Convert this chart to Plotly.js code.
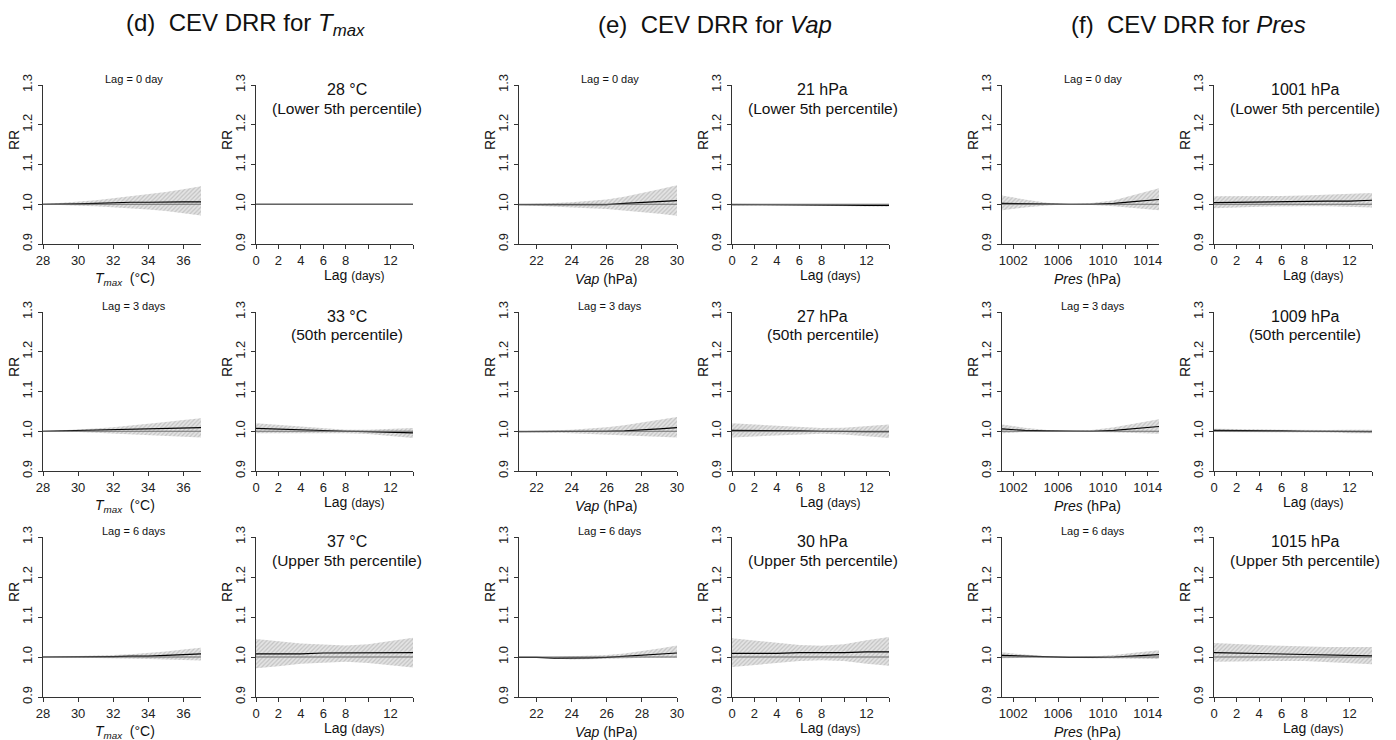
<!DOCTYPE html>
<html>
<head>
<meta charset="utf-8">
<script src="https://cdn.plot.ly/plotly-3.0.1.min.js"></script>
<style>
  html, body { margin: 0; padding: 0; background: #ffffff; }
  #chart { width: 1396px; height: 740px; }
</style>
</head>
<body>
<div id="chart"></div>
<script>
// ---------- exposure grids and lag grid ----------
const tmaxGrid = [28, 29, 30, 31, 32, 33, 34, 35, 36, 37];
const vapGrid  = [21, 22, 23, 24, 25, 26, 27, 28, 29, 30];
const presGrid = [1001, 1003, 1005, 1007, 1009, 1011, 1013, 1015];
const lagDays  = [0, 2, 4, 6, 8, 10, 12, 14];
const refRR = 1.0;

// ---------- Tmax: exposure-response at lag 0 / 3 / 6 ----------
const tmaxLag0Fit  = [1.000, 1.000, 1.001, 1.002, 1.004, 1.005, 1.005, 1.006, 1.006, 1.006];
const tmaxLag0Low  = [1.000, 0.998, 0.996, 0.995, 0.993, 0.990, 0.987, 0.983, 0.978, 0.972];
const tmaxLag0High = [1.000, 1.003, 1.006, 1.010, 1.015, 1.020, 1.025, 1.031, 1.038, 1.045];
const tmaxLag3Fit  = [1.000, 1.001, 1.002, 1.002, 1.003, 1.004, 1.005, 1.006, 1.007, 1.009];
const tmaxLag3Low  = [1.000, 0.999, 0.998, 0.996, 0.995, 0.993, 0.991, 0.989, 0.986, 0.984];
const tmaxLag3High = [1.000, 1.002, 1.004, 1.007, 1.010, 1.014, 1.018, 1.023, 1.028, 1.033];
const tmaxLag6Fit  = [1.000, 1.000, 1.000, 1.001, 1.001, 1.002, 1.002, 1.004, 1.006, 1.008];
const tmaxLag6Low  = [1.000, 0.999, 0.998, 0.998, 0.997, 0.996, 0.995, 0.994, 0.993, 0.991];
const tmaxLag6High = [1.000, 1.001, 1.002, 1.004, 1.005, 1.007, 1.010, 1.014, 1.019, 1.023];

// ---------- Tmax: lag-response at 28 / 33 / 37 °C ----------
const tmax28Fit  = [1.000, 1.000, 1.000, 1.000, 1.000, 1.000, 1.000, 1.000];
const tmax28Low  = [1.000, 1.000, 1.000, 1.000, 1.000, 1.000, 1.000, 1.000];
const tmax28High = [1.000, 1.000, 1.000, 1.000, 1.000, 1.000, 1.000, 1.000];
const tmax33Fit  = [1.007, 1.005, 1.003, 1.001, 1.000, 0.999, 0.997, 0.996];
const tmax33Low  = [0.995, 0.995, 0.995, 0.995, 0.995, 0.993, 0.988, 0.983];
const tmax33High = [1.020, 1.016, 1.011, 1.007, 1.004, 1.004, 1.006, 1.008];
const tmax37Fit  = [1.008, 1.008, 1.008, 1.010, 1.010, 1.010, 1.011, 1.011];
const tmax37Low  = [0.972, 0.977, 0.983, 0.986, 0.988, 0.985, 0.979, 0.974];
const tmax37High = [1.045, 1.040, 1.034, 1.031, 1.029, 1.032, 1.040, 1.048];

// ---------- Vap: exposure-response at lag 0 / 3 / 6 ----------
const vapLag0Fit  = [0.999, 0.999, 0.999, 0.998, 0.998, 0.999, 1.002, 1.004, 1.007, 1.009];
const vapLag0Low  = [0.998, 0.996, 0.994, 0.992, 0.990, 0.988, 0.985, 0.980, 0.976, 0.971];
const vapLag0High = [1.000, 1.001, 1.003, 1.005, 1.008, 1.012, 1.019, 1.028, 1.038, 1.048];
const vapLag3Fit  = [0.999, 0.999, 0.999, 0.999, 0.999, 1.000, 1.001, 1.003, 1.006, 1.009];
const vapLag3Low  = [0.998, 0.997, 0.996, 0.995, 0.994, 0.992, 0.990, 0.988, 0.986, 0.984];
const vapLag3High = [1.000, 1.001, 1.002, 1.004, 1.007, 1.010, 1.015, 1.022, 1.029, 1.036];
const vapLag6Fit  = [0.999, 0.999, 0.997, 0.997, 0.998, 0.999, 1.002, 1.004, 1.007, 1.010];
const vapLag6Low  = [0.998, 0.998, 0.996, 0.994, 0.994, 0.995, 0.996, 0.998, 0.998, 0.998];
const vapLag6High = [1.000, 1.000, 1.000, 1.002, 1.003, 1.005, 1.009, 1.015, 1.021, 1.029];

// ---------- Vap: lag-response at 21 / 27 / 30 hPa ----------
const vap21Fit  = [0.999, 0.999, 0.999, 0.999, 0.999, 0.998, 0.997, 0.997];
const vap21Low  = [0.997, 0.997, 0.997, 0.997, 0.997, 0.996, 0.995, 0.994];
const vap21High = [1.001, 1.001, 1.001, 1.001, 1.001, 1.000, 1.000, 1.000];
const vap27Fit  = [1.002, 1.002, 1.002, 1.001, 1.000, 0.999, 0.999, 0.999];
const vap27Low  = [0.984, 0.987, 0.990, 0.992, 0.994, 0.992, 0.988, 0.983];
const vap27High = [1.020, 1.017, 1.014, 1.010, 1.008, 1.009, 1.013, 1.017];
const vap30Fit  = [1.009, 1.009, 1.009, 1.011, 1.011, 1.011, 1.013, 1.013];
const vap30Low  = [0.975, 0.980, 0.985, 0.990, 0.992, 0.990, 0.983, 0.978];
const vap30High = [1.047, 1.041, 1.035, 1.030, 1.028, 1.032, 1.042, 1.050];

// ---------- Pres: exposure-response at lag 0 / 3 / 6 ----------
const presLag0Fit  = [1.002, 1.001, 1.000, 1.000, 1.000, 1.002, 1.007, 1.012];
const presLag0Low  = [0.985, 0.992, 0.997, 1.000, 0.998, 0.995, 0.990, 0.985];
const presLag0High = [1.022, 1.012, 1.004, 1.000, 1.003, 1.010, 1.025, 1.040];
const presLag3Fit  = [1.006, 1.002, 1.001, 1.000, 1.000, 1.002, 1.007, 1.012];
const presLag3Low  = [0.995, 0.998, 0.999, 1.000, 0.999, 0.998, 0.996, 0.994];
const presLag3High = [1.017, 1.009, 1.003, 1.000, 1.003, 1.010, 1.020, 1.030];
const presLag6Fit  = [1.004, 1.002, 1.000, 0.999, 0.999, 1.000, 1.003, 1.006];
const presLag6Low  = [0.997, 0.998, 0.999, 0.998, 0.997, 0.996, 0.995, 0.995];
const presLag6High = [1.012, 1.006, 1.002, 1.000, 1.001, 1.005, 1.011, 1.017];

// ---------- Pres: lag-response at 1001 / 1009 / 1015 hPa ----------
const pres1001Fit  = [1.004, 1.005, 1.006, 1.006, 1.008, 1.008, 1.008, 1.010];
const pres1001Low  = [0.990, 0.992, 0.994, 0.995, 0.995, 0.995, 0.994, 0.992];
const pres1001High = [1.020, 1.020, 1.020, 1.021, 1.022, 1.024, 1.026, 1.028];
const pres1009Fit  = [1.002, 1.002, 1.001, 1.001, 1.000, 1.000, 0.999, 0.999];
const pres1009Low  = [0.998, 0.998, 0.998, 0.998, 0.997, 0.997, 0.995, 0.995];
const pres1009High = [1.006, 1.006, 1.005, 1.004, 1.003, 1.003, 1.004, 1.004];
const pres1015Fit  = [1.011, 1.010, 1.009, 1.008, 1.007, 1.005, 1.004, 1.003];
const pres1015Low  = [0.988, 0.989, 0.990, 0.990, 0.990, 0.988, 0.985, 0.982];
const pres1015High = [1.035, 1.032, 1.030, 1.028, 1.026, 1.025, 1.025, 1.025];

// ---------- axis ranges and tick labels ----------
const rrRange = [0.9, 1.3];
const rrTicks = [0.9, 1.0, 1.1, 1.2, 1.3];
const rrTickText = ['0.9', '1.0', '1.1', '1.2', '1.3'];
const tmaxRange = [28, 37];
const tmaxTicks = [28, 30, 32, 34, 36];
const tmaxMinorTicks = [];
const vapRange = [21, 30];
const vapTicks = [22, 24, 26, 28, 30];
const vapMinorTicks = [];
const presRange = [1001, 1015];
const presTicks = [1002, 1006, 1010, 1014];
const presMinorTicks = [1004, 1008, 1012];
const lagRange = [0, 14];
const lagTicks = [0, 2, 4, 6, 8, 12];
const lagMinorTicks = [10, 14];

const panelTitles = ['(d)  CEV DRR for <i>T</i><sub><i>max</i></sub>',
                     '(e)  CEV DRR for <i>Vap</i>',
                     '(f)  CEV DRR for <i>Pres</i>'];
const lagLabels = ['Lag = 0 day', 'Lag = 3 days', 'Lag = 6 days'];
const tmaxLevels = ['28 °C', '33 °C', '37 °C'];
const vapLevels  = ['21 hPa', '27 hPa', '30 hPa'];
const presLevels = ['1001 hPa', '1009 hPa', '1015 hPa'];
const percentileLabels = ['(Lower 5th percentile)', '(50th percentile)', '(Upper 5th percentile)'];

// ---------- page geometry (pixels) ----------
const W = 1396, H = 740;
const colLeft  = [43, 256, 519, 732, 1002, 1214];
const colRight = [201, 413, 677, 889, 1159, 1372];
const rowTop    = [85, 312, 537];
const rowBottom = [244, 471, 697];
const FONT = 'Arial, "Liberation Sans", Helvetica, sans-serif';
const px = v => v / W;
const py = v => 1 - v / H;

// variable blocks: exposure panel + lag panel per row
const variables = [
  { grid: tmaxGrid, range: tmaxRange, ticks: tmaxTicks, minor: tmaxMinorTicks,
    xTitle: '<i>T</i><sub><i>max</i></sub>  (°C)', xTitleShift: 3,
    exp: [[tmaxLag0Fit, tmaxLag0Low, tmaxLag0High], [tmaxLag3Fit, tmaxLag3Low, tmaxLag3High], [tmaxLag6Fit, tmaxLag6Low, tmaxLag6High]],
    lag: [[tmax28Fit, tmax28Low, tmax28High], [tmax33Fit, tmax33Low, tmax33High], [tmax37Fit, tmax37Low, tmax37High]],
    levels: tmaxLevels },
  { grid: vapGrid, range: vapRange, ticks: vapTicks, minor: vapMinorTicks,
    xTitle: '<i>Vap</i> (hPa)', xTitleShift: 8,
    exp: [[vapLag0Fit, vapLag0Low, vapLag0High], [vapLag3Fit, vapLag3Low, vapLag3High], [vapLag6Fit, vapLag6Low, vapLag6High]],
    lag: [[vap21Fit, vap21Low, vap21High], [vap27Fit, vap27Low, vap27High], [vap30Fit, vap30Low, vap30High]],
    levels: vapLevels },
  { grid: presGrid, range: presRange, ticks: presTicks, minor: presMinorTicks,
    xTitle: '<i>Pres</i> (hPa)', xTitleShift: 7,
    exp: [[presLag0Fit, presLag0Low, presLag0High], [presLag3Fit, presLag3Low, presLag3High], [presLag6Fit, presLag6Low, presLag6High]],
    lag: [[pres1001Fit, pres1001Low, pres1001High], [pres1009Fit, pres1009Low, pres1009High], [pres1015Fit, pres1015Low, pres1015High]],
    levels: presLevels }
];

const traces = [];
const layout = {
  width: W, height: H,
  margin: { l: 0, r: 0, t: 0, b: 0 },
  paper_bgcolor: '#ffffff', plot_bgcolor: '#ffffff',
  showlegend: false,
  font: { family: FONT, color: '#1a1a1a' },
  annotations: []
};

function axisBase() {
  return {
    showline: true, linecolor: '#333333', linewidth: 1,
    ticks: 'outside', ticklen: 5, tickwidth: 1, tickcolor: '#333333',
    showgrid: false, zeroline: false, fixedrange: true,
    tickfont: { family: FONT, size: 13, color: '#222222' }
  };
}

function note(text, x, y, size, extra) {
  layout.annotations.push(Object.assign({
    text: text, x: px(x), y: py(y), xref: 'paper', yref: 'paper',
    xanchor: 'center', yanchor: 'middle', showarrow: false,
    font: { family: FONT, size: size, color: '#111111' }
  }, extra || {}));
}

function addPanel(n, xs, fit, low, high, xRange, ticks, minorTicks, col, row) {
  const xa = 'x' + (n === 1 ? '' : n), ya = 'y' + (n === 1 ? '' : n);
  const xKey = 'xaxis' + (n === 1 ? '' : n), yKey = 'yaxis' + (n === 1 ? '' : n);

  const xAxis = Object.assign(axisBase(), {
    domain: [px(colLeft[col]), px(colRight[col])], anchor: ya,
    range: xRange, tickmode: 'array', tickvals: ticks, ticktext: ticks.map(String),
    ticklen: 4, ticklabelstandoff: 0
  });
  if (minorTicks.length) {
    xAxis.minor = { tickmode: 'array', tickvals: minorTicks, ticks: 'outside',
                    ticklen: 4, tickwidth: 1, tickcolor: '#333333', showgrid: false };
  }
  layout[xKey] = xAxis;
  layout[yKey] = Object.assign(axisBase(), {
    domain: [py(rowBottom[row]), py(rowTop[row])], anchor: xa,
    range: rrRange, tickmode: 'array', tickvals: rrTicks, ticktext: rrTickText,
    tickangle: -90, ticklen: 4, ticklabelstandoff: 1
  });

  // confidence band (hatched grey area)
  const hasBand = high.some((v, i) => v !== low[i]);
  if (hasBand) {
    traces.push({
      type: 'scatter', mode: 'lines', xaxis: xa, yaxis: ya,
      x: xs.concat(xs.slice().reverse()),
      y: high.concat(low.slice().reverse()),
      fill: 'toself', fillcolor: '#e0e0e0',
      fillpattern: { shape: '/', fgcolor: '#c2c2c2', bgcolor: '#e4e4e4', size: 3, solidity: 0.4 },
      line: { width: 0 }, hoverinfo: 'skip'
    });
  }
  // estimated relative risk
  traces.push({
    type: 'scatter', mode: 'lines', xaxis: xa, yaxis: ya,
    x: xs, y: fit, line: { color: '#000000', width: 1.2 }, hoverinfo: 'skip'
  });
  // RR = 1 reference
  traces.push({
    type: 'scatter', mode: 'lines', xaxis: xa, yaxis: ya,
    x: xRange, y: [refRR, refRR], line: { color: '#707070', width: 1.2 }, hoverinfo: 'skip'
  });

  // RR axis label
  note('RR', colLeft[col] - 29, rowTop[row] + 55, 14, { textangle: -90 });
}

let n = 1;
variables.forEach((v, vi) => {
  const ec = vi * 2, lc = vi * 2 + 1;
  const titleX = [245, 715, 1188][vi];
  note(panelTitles[vi], titleX, 24, 24);
  for (let r = 0; r < 3; r++) {
    // exposure-response panel
    addPanel(n++, v.grid, v.exp[r][0], v.exp[r][1], v.exp[r][2], v.range, v.ticks, v.minor, ec, r);
    const ecx = (colLeft[ec] + colRight[ec]) / 2;
    note(lagLabels[r], ecx + 12, rowTop[r] - 6, 11);
    note(v.xTitle, ecx + v.xTitleShift, rowBottom[r] + 35, 14);

    // lag-response panel
    addPanel(n++, lagDays, v.lag[r][0], v.lag[r][1], v.lag[r][2], lagRange, lagTicks, lagMinorTicks, lc, r);
    const lcx = (colLeft[lc] + colRight[lc]) / 2;
    note(v.levels[r], lcx + 12, rowTop[r] + 4, 16);
    note(percentileLabels[r], lcx + 12, rowTop[r] + 23, 15.5);
    note('Lag <span style="font-size:12px">(days)</span>', lcx + 20, rowBottom[r] + 31, 14);
  }
});

Plotly.newPlot('chart', traces, layout, { staticPlot: true, displayModeBar: false });
</script>
</body>
</html>
